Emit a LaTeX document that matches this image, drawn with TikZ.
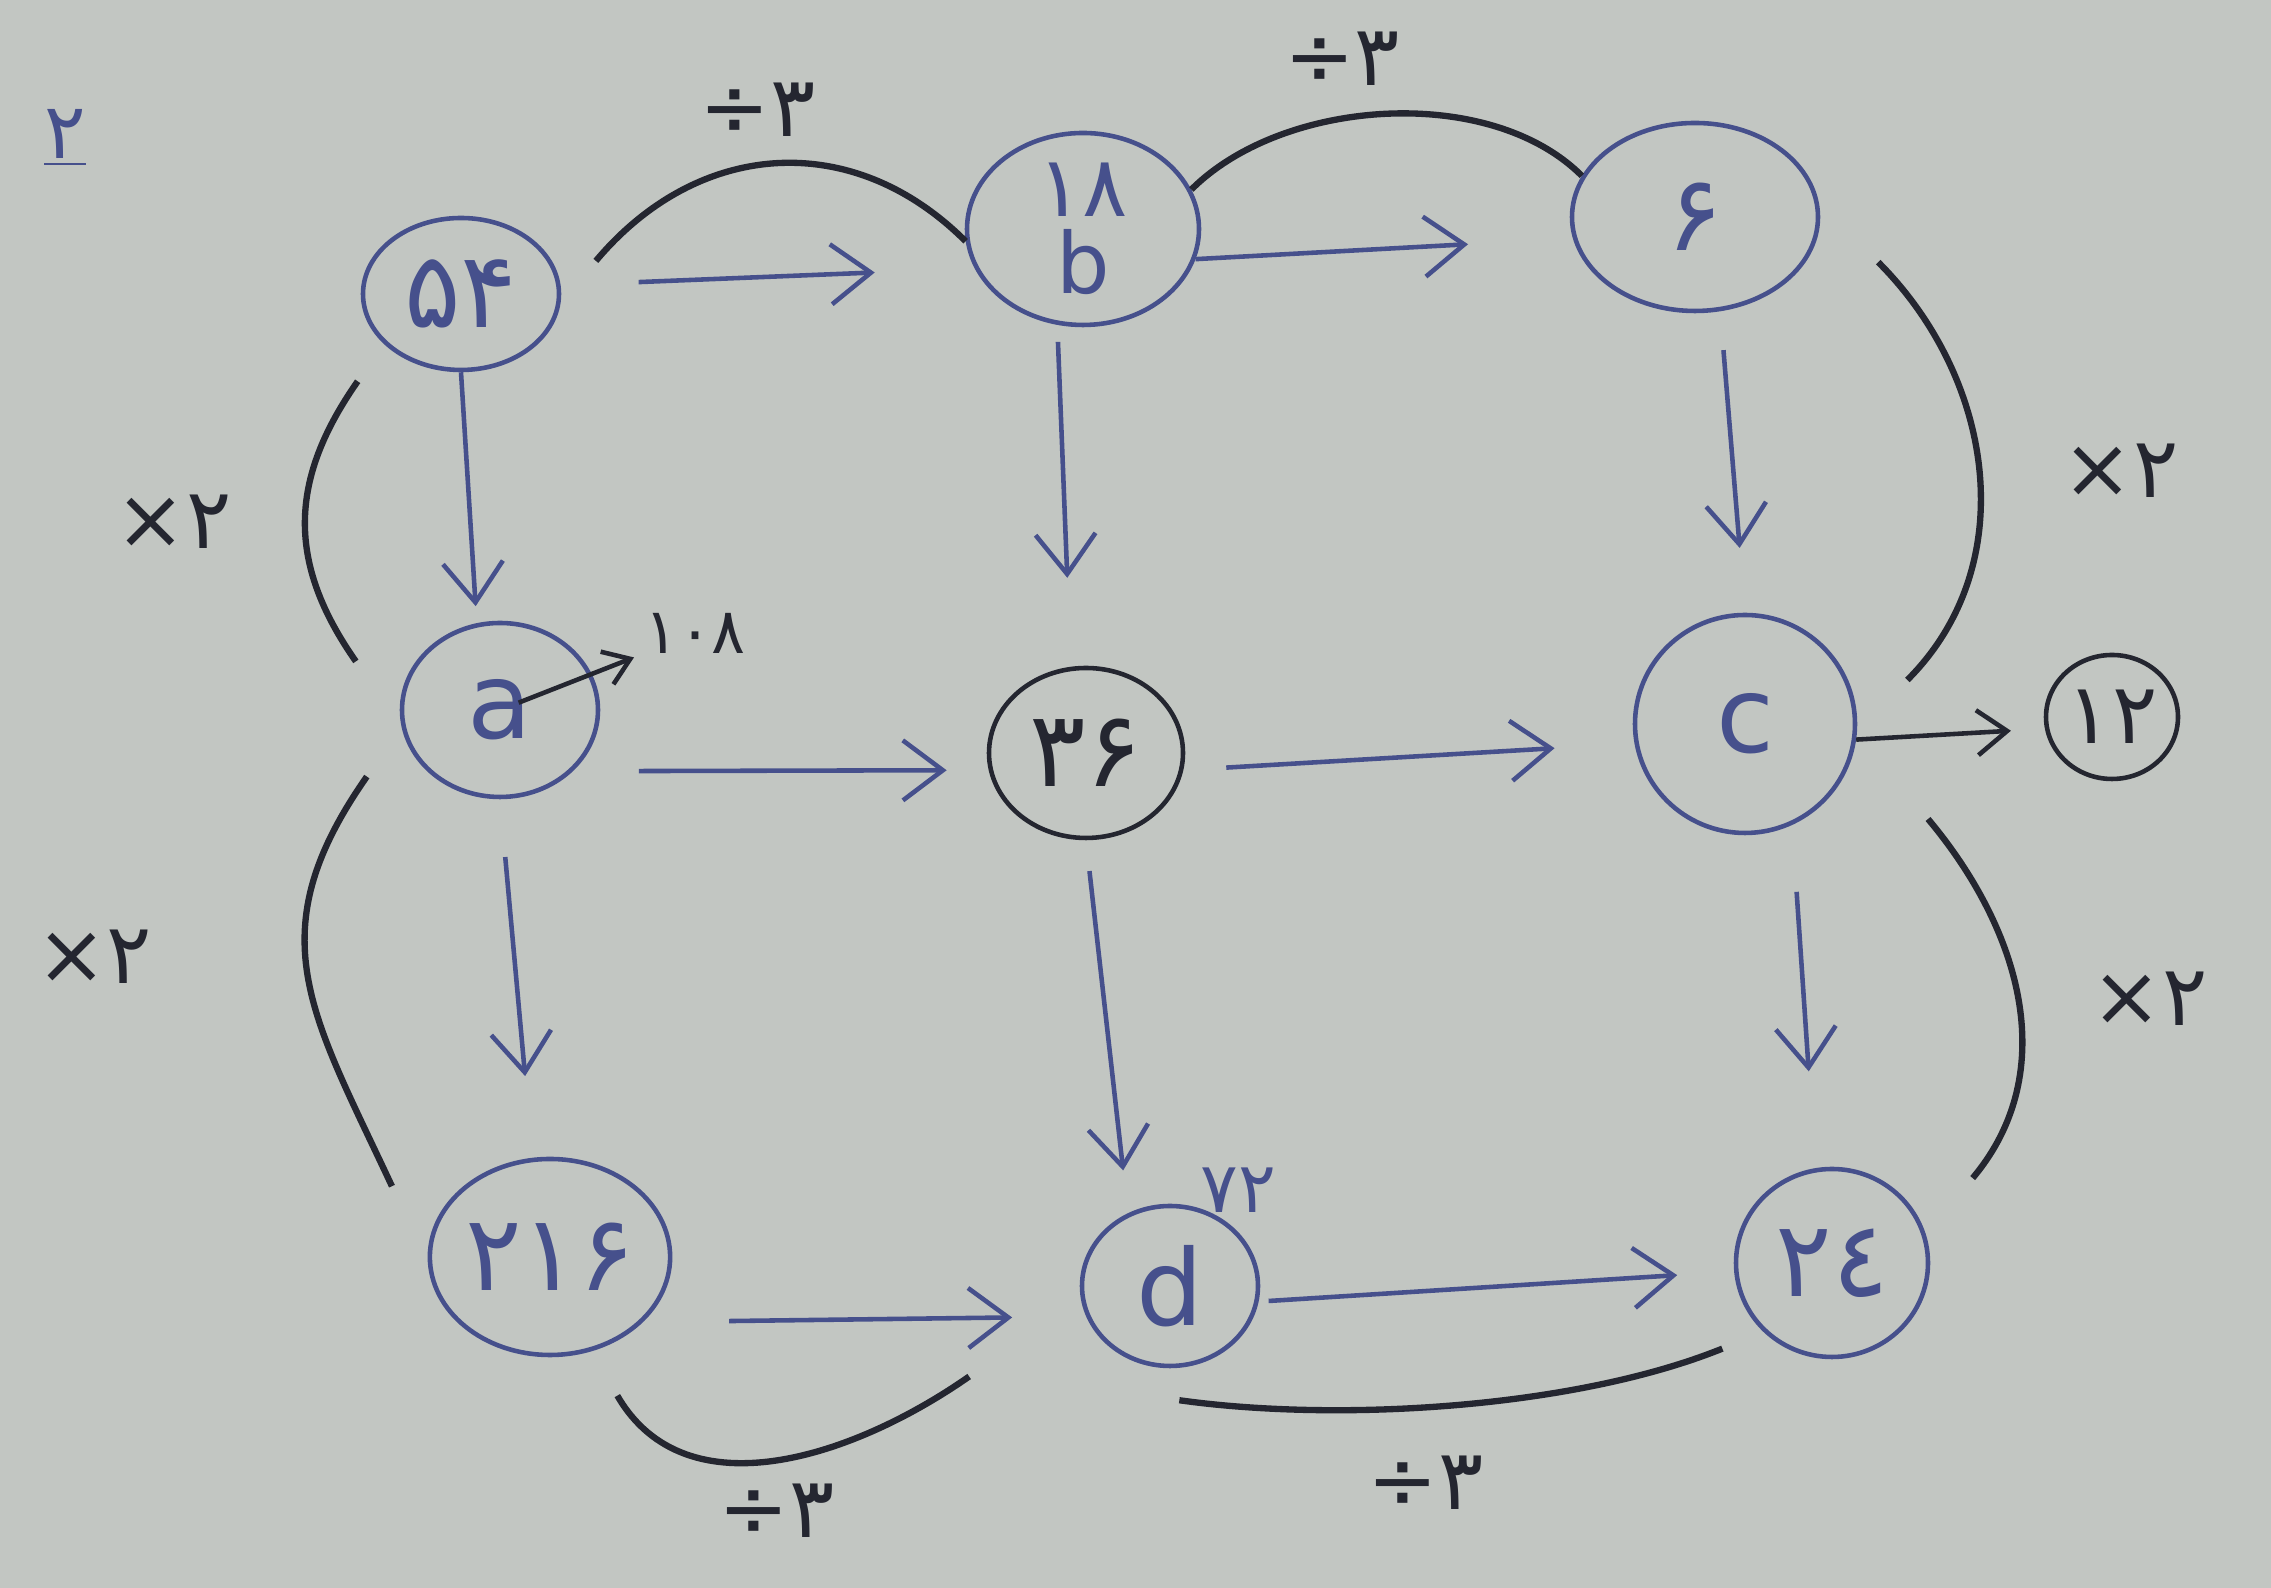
\documentclass[tikz,border=0pt]{standalone}
\usepackage{fontspec}
\setmainfont{DejaVu Sans}
\usetikzlibrary{shapes.geometric,arrows.meta}
\definecolor{paper}{RGB}{194,198,194}
\definecolor{blueink}{RGB}{70,80,140}
\definecolor{darkink}{RGB}{36,38,48}

\begin{document}
\begin{tikzpicture}[>={Straight Barb[length=4mm,width=6mm]},
  ring/.style={draw=blueink, line width=1.3pt, ellipse, inner sep=0pt,
               text=blueink, font=\fontsize{30}{30}\selectfont},
  go/.style={->, draw=blueink, line width=1.3pt},
  op/.style={draw=darkink, line width=1.8pt},
  oplab/.style={text=darkink, inner sep=0pt, font=\fontsize{24}{24}\selectfont}]
  \path[use as bounding box, fill=paper] (0,0) rectangle (22.71,15.88);

  \node (num) [text=blueink, font=\fontsize{22}{22}\selectfont] at (0.65,14.50)
    {\underline{۲}};

  \node (n54) [ring, minimum width=1.96cm, minimum height=1.52cm] at (4.61,12.94) {۵۴};
  \node (b)   [ring, minimum width=2.32cm, minimum height=1.92cm, align=center,
               font=\fontsize{24}{22}\selectfont] at (10.83,13.59) {۱۸\\b};
  \node (n6)  [ring, minimum width=2.46cm, minimum height=1.88cm] at (16.95,13.71) {۶};
  \node (a)   [ring, minimum width=1.96cm, minimum height=1.74cm] at (5.00,8.78) {a};
  \node (n36) [ring, draw=darkink, text=darkink, minimum width=1.94cm,
               minimum height=1.70cm] at (10.86,8.35) {۳۶};
  \node (c)   [ring, minimum width=2.20cm, minimum height=2.18cm] at (17.45,8.64) {c};
  \node (n12) [ring, draw=darkink, text=darkink, minimum width=1.32cm,
               minimum height=1.24cm, font=\fontsize{24}{24}\selectfont] at (21.12,8.71) {۱۲};
  \node (n216)[ring, minimum width=2.00cm, minimum height=1.96cm] at (5.50,3.31) {۲۱۶};
  \node (d)   [ring, minimum width=1.76cm, minimum height=1.60cm] at (11.70,3.02) {d};
  \node (n24) [ring, minimum width=1.92cm, minimum height=1.88cm] at (18.32,3.25) {۲٤};

  \node (v108) [oplab, font=\fontsize{18}{18}\selectfont] at (6.95,9.55) {۱۰۸};
  \node (v72)  [oplab, text=blueink, font=\fontsize{20}{20}\selectfont] at (12.38,3.98) {۷۲};

  \draw[go, shorten <=7.8mm, shorten >=10mm] (n54.5) -- (b.200);
  \draw[go, shorten >=10.5mm] (b.345) -- (n6.190);
  \draw[go, shorten >=1.7mm] (n54.south) -- (a.105);
  \draw[go, shorten <=1.7mm, shorten >=8.9mm] (b.255) -- (n36.100);
  \draw[go, shorten <=3.9mm, shorten >=6.5mm] (n6.-75) -- (c.north);
  \draw[go, shorten <=6.6mm, shorten >=4.2mm] (a.-40) -- (n36.190);
  \draw[go, shorten <=4.3mm, shorten >=8mm] (n36.-10) -- (c.190);
  \draw[go, draw=darkink, shorten >=3.4mm,
        >={Straight Barb[length=3mm,width=4.5mm]}] (c.-8) -- (n12.190);
  \draw[go, draw=darkink, shorten <=2mm, shorten >=1mm,
        >={Straight Barb[length=2.5mm,width=3.5mm]}] (a.center) -- (v108.south west);
  \draw[go, shorten <=5.8mm, shorten >=8.2mm] (a.south) -- (n216.100);
  \draw[go, shorten <=3.1mm, shorten >=4.3mm] (n36.south) -- (d.120);
  \draw[go, shorten <=6.7mm, shorten >=9.7mm] (c.-65) -- (n24.100);
  \draw[go, shorten <=8.6mm, shorten >=7.4mm] (n216.-35) -- (d.200);
  \draw[go, shorten <=1mm, shorten >=5.7mm] (d.-10) -- (n24.185);

  \draw[op] ([xshift=4.4mm]n54.20) to[out=50, in=135, looseness=1.1]
    node[pos=.45, above=2.5mm, oplab] {÷۳} (b.186);
  \draw[op] (b.20) to[out=45, in=135, looseness=.85]
    node[pos=.4, above=3mm, oplab] {÷۳} (n6.160);
  \draw[op] ([shift={(-3.5mm,-3mm)}]n54.220) to[out=235, in=125, looseness=1.1]
    node[pos=.5, left=7mm, oplab] {×۲} ([xshift=-6mm]a.150);
  \draw[op] ([shift={(-4.9mm,-1.8mm)}]a.210) to[out=235, in=115, looseness=1.2]
    node[pos=.45, left=15mm, oplab] {×۲} ([shift={(-5.8mm,1.3mm)}]n216.150);
  \draw[op] ([shift={(7mm,-0.4mm)}]n6.-20) to[out=-45, in=45]
    node[pos=.5, right=8mm, oplab] {×۲} ([shift={(5.4mm,1.5mm)}]c.15);
  \draw[op] ([shift={(8.6mm,-3.9mm)}]c.-30) to[out=-50, in=50]
    node[pos=.5, right=7mm, oplab] {×۲} ([shift={(5.6mm,3.6mm)}]n24.30);
  \draw[op] ([shift={(1.5mm,-4.8mm)}]n216.-60) to[out=-60, in=-145]
    node[pos=.5, below=2mm, oplab] {÷۳} ([shift={(-11.7mm,-6mm)}]d.200);
  \draw[op] ([shift={(-0.5mm,-3.3mm)}]d.-80) to[out=-8, in=-158, looseness=.75]
    node[pos=.45, below=4.5mm, oplab] {÷۳} ([shift={(-3.5mm,-2.3mm)}]n24.220);
\end{tikzpicture}
\end{document}
